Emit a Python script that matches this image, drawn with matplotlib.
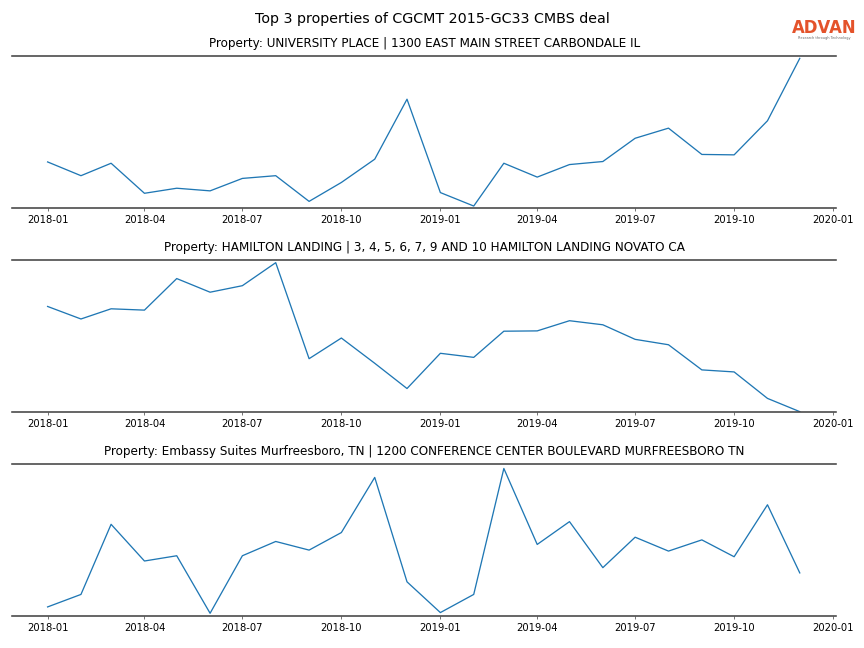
import matplotlib
matplotlib.use("Agg")
import matplotlib.pyplot as plt
import matplotlib.dates as mdates
import pandas as pd

# monthly activity index for the top 3 properties (Jan 2018 - Dec 2019)
months = pd.date_range("2018-01-01", "2019-12-01", freq="MS")

university_place = [46.0, 32.4, 44.7, 15.0, 20.0, 17.4, 29.7, 32.4, 7.0, 25.7, 48.7, 108.0,
                    15.7, 2.4, 44.7, 31.0, 43.4, 46.4, 69.4, 79.4, 53.4, 53.0, 86.7, 148.4]
hamilton_landing = [104.0, 91.7, 101.7, 100.4, 131.4, 118.0, 124.4, 147.0, 52.7, 73.0, 48.2, 23.4,
                    58.0, 54.0, 79.7, 80.0, 90.0, 86.0, 71.7, 66.4, 41.7, 39.7, 13.7, 0.7]
embassy_suites = [9.4, 22.0, 92.7, 55.7, 61.0, 3.0, 61.0, 75.4, 66.7, 84.4, 140.0, 34.7,
                  3.7, 22.0, 149.0, 72.4, 95.4, 49.0, 79.7, 65.7, 77.0, 60.0, 112.4, 43.7]

titles = [
    "Property: UNIVERSITY PLACE | 1300 EAST MAIN STREET CARBONDALE IL",
    "Property: HAMILTON LANDING | 3, 4, 5, 6, 7, 9 AND 10 HAMILTON LANDING NOVATO CA",
    "Property: Embassy Suites Murfreesboro, TN | 1200 CONFERENCE CENTER BOULEVARD MURFREESBORO TN",
]
series = [university_place, hamilton_landing, embassy_suites]
ylims = [(0, 151), (0, 150), (0, 154)]

fig, axes = plt.subplots(3, 1, figsize=(12, 9), dpi=72)
fig.subplots_adjust(left=0.014, right=0.968, top=0.914, bottom=0.049, hspace=0.335)

for ax, vals, title, ylim in zip(axes, series, titles, ylims):
    ax.plot(months, vals, color="tab:blue", lw=1.3)
    ax.set_title(title, fontsize=12, pad=8.5)
    ax.set_ylim(*ylim)
    ax.set_xlim(pd.Timestamp("2017-11-29"), pd.Timestamp("2020-01-04"))
    ax.xaxis.set_major_locator(mdates.MonthLocator(bymonth=[1, 4, 7, 10]))
    ax.xaxis.set_major_formatter(mdates.DateFormatter("%Y-%m"))
    ax.tick_params(axis="x", labelsize=10, length=3, color="#555555")
    ax.set_yticks([])
    for side in ["left", "right"]:
        ax.spines[side].set_visible(False)
    for side in ["top", "bottom"]:
        ax.spines[side].set_color("#444444")
        ax.spines[side].set_linewidth(1.6)

fig.suptitle("Top 3 properties of CGCMT 2015-GC33 CMBS deal", fontsize=14.2, y=0.982)

# logo
fig.text(0.9535, 0.957, "ADVAN", color="#E4532B", fontsize=16.5, fontweight="bold",
         ha="center", va="center")
fig.text(0.9535, 0.941, "Research through Technology", color="#666666", fontsize=3.5,
         ha="center", va="center")

fig.savefig("out.png")
